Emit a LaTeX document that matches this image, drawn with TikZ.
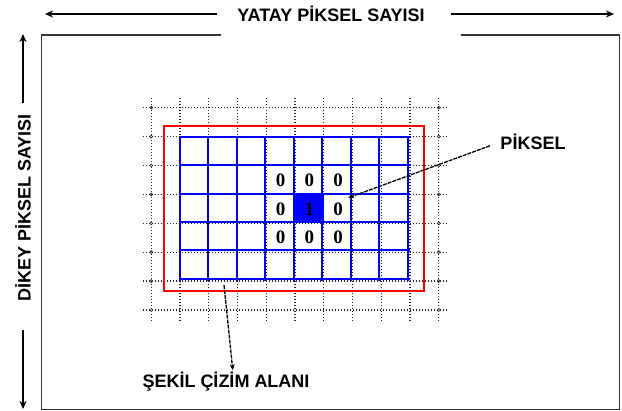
\documentclass[tikz,border=0pt]{standalone}
\usepackage{fontspec}
\setmainfont{Liberation Sans}
\newfontfamily\digitfont{Liberation Serif}
\usetikzlibrary{arrows.meta, positioning}

\begin{document}
\begin{tikzpicture}[
    x=1pt, y=-1pt,
    txt/.style={font=\fontsize{18}{20}\selectfont\bfseries, inner sep=0pt},
    digit/.style={font=\digitfont\fontsize{19}{20}\selectfont\bfseries, inner sep=0pt},
    arrow/.style={-{Stealth[length=8pt, width=7pt]}, line width=1.5pt},
    pointer/.style={-{Stealth[length=6pt, width=5pt]}, dash pattern=on 4pt off 1pt, line width=1.3pt},
    dotline/.style={line width=1.3pt, dash pattern=on 1.1pt off 1.9pt, black!85},
    pixgrid/.style={blue, line width=2pt},
    frame/.style={black!80, line width=1.3pt}
]
\useasboundingbox (0,0) rectangle (622,411);
\fill[white] (0,0) rectangle (622,411);

\node[txt] (yatay) at (331,14) {YATAY PİKSEL SAYISI};
\node[txt, rotate=90] (dikey) at (23,208) {DİKEY PİKSEL SAYISI};
\node[txt] (piksel) at (533,142) {PİKSEL};
\node[txt] (sekil) at (226,382) {ŞEKİL ÇİZİM ALANI};

\coordinate (yatayL) at (45,14);
\coordinate (yatayR) at (614,14);
\coordinate (dikeyT) at (23,34);
\coordinate (dikeyB) at (23,409);
\draw[arrow, shorten <=20pt] (yatay.west) -- (yatayL);
\draw[arrow, shorten <=26pt] (yatay.east) -- (yatayR);
\draw[arrow, shorten <=11pt] (dikey.east) -- (dikeyT);
\draw[arrow, shorten <=28pt] (dikey.west) -- (dikeyB);

\draw[frame] (221,35) -- (41.5,35) -- (41.5,409.5) -- (619.5,409.5) -- (619.5,35) -- (461,35);

\begin{scope}[shift={(180,136.6)}, x=28.75pt, y=-28.9pt]
  \foreach \i in {-1,...,9}
    \draw[dotline] (\i,-1.35) -- (\i,6.35);
  \foreach \j in {-1,...,6}
    \draw[dotline] (-1.3,\j) -- (9.3,\j);
  \foreach \i in {-1,9}
    \foreach \j in {-1,...,6}
      \draw[black!80, line width=0.7pt] (\i,\j) circle[radius=1.5pt];
  \draw[red, line width=2pt] (-0.55,-0.37) rectangle (8.47,5.34);
  \fill[blue] (4,2) rectangle (5,3);
  \draw[pixgrid] (0,0) grid (8,5);
  \foreach \i/\j in {3/1,4/1,5/1,3/2,5/2,3/3,4/3,5/3}
    \node[digit] (z\i\j) at (\i+.5,\j+.5) {0};
  \node[digit] (one) at (4.5,2.5) {1};
  \coordinate (pix) at (5.85,2.12);
  \coordinate (alan) at (1.53,5.13);
\end{scope}

\draw[pointer, shorten <=11pt] (piksel.west) -- (pix);
\draw[pointer, shorten >=2pt] (alan) -- ([xshift=7pt]sekil.north);
\end{tikzpicture}
\end{document}
